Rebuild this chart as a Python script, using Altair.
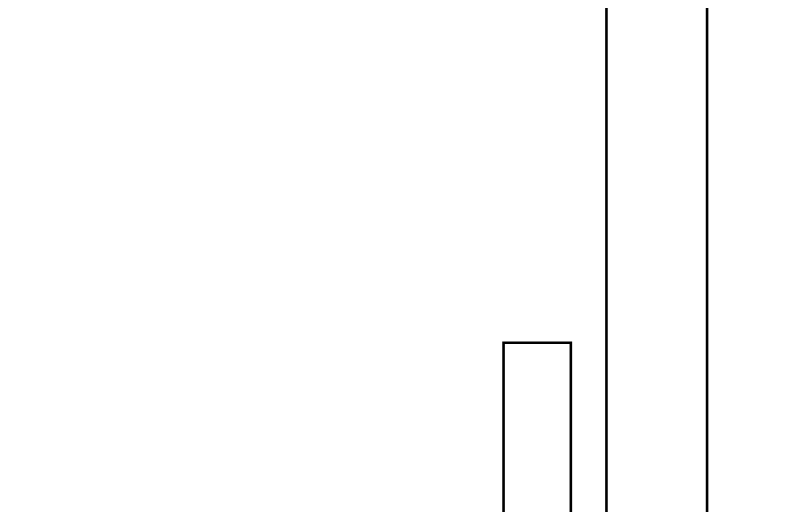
import altair as alt
import pandas as pd

# Bars: left/right edge and height (data units)
bar_names = ["A", "B"]
x_start = [15.17, 18.32]
x_end = [17.23, 21.40]
heights = [44.2, 130.0]

df = pd.DataFrame({"name": bar_names, "x0": x_start, "x1": x_end, "h": heights})

chart = alt.Chart(df).mark_rect(
    fill="white", stroke="black", strokeWidth=2.6, clip=True
).encode(
    x=alt.X("x0:Q", scale=alt.Scale(domain=[0, 24], nice=False, zero=False), axis=None),
    x2="x1:Q",
    y=alt.Y("h:Q", scale=alt.Scale(domain=[0, 100], nice=False), axis=None),
    y2=alt.datum(0),
).properties(
    width=784, height=600, padding=0, background="white"
).configure_view(strokeWidth=0)

chart.save("out.html", embed_options={"renderer": "svg", "actions": False})
